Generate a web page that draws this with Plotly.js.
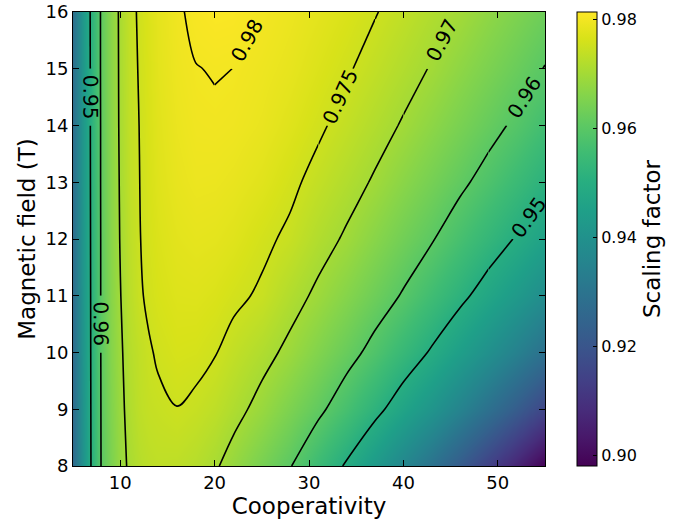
<!DOCTYPE html>
<html>
<head>
<meta charset="utf-8">
<script src="https://cdn.plot.ly/plotly-3.0.1.min.js"></script>
<style>html,body{margin:0;padding:0;background:#fff;}#chart{width:685px;height:524px;}</style>
</head>
<body>
<div id="chart"></div>
<script>
// Cooperativity (x) grid and magnetic field (y) grid
const cooperativity = [5, 6, 7, 8, 9, 10, 11, 12, 13, 14, 16, 18, 20, 22, 25, 28, 31, 34, 37, 40, 43, 46, 49, 52, 55];
const magneticField = [8, 9, 10, 11, 12, 13, 14, 15, 16];

// Scaling factor, one row per magnetic field value
const scaling_B8  = [0.9270, 0.9390, 0.9512, 0.9603, 0.9648, 0.9683, 0.9708, 0.9722, 0.9730, 0.9733, 0.9731, 0.9722, 0.9706, 0.9682, 0.9642, 0.9603, 0.9548, 0.9492, 0.9429, 0.9362, 0.9293, 0.9218, 0.9140, 0.9062, 0.8982];
const scaling_B9  = [0.9272, 0.9395, 0.9513, 0.9604, 0.9655, 0.9687, 0.9716, 0.9732, 0.9740, 0.9743, 0.97493, 0.9743, 0.9732, 0.9715, 0.9685, 0.9649, 0.9612, 0.9567, 0.9518, 0.9465, 0.9411, 0.9351, 0.9289, 0.9222, 0.9153];
const scaling_B10 = [0.9275, 0.9400, 0.9514, 0.9605, 0.9660, 0.9692, 0.9722, 0.9735, 0.9746, 0.9754, 0.9762, 0.9760, 0.9752, 0.9737, 0.9715, 0.9689, 0.9655, 0.9620, 0.9582, 0.9538, 0.9493, 0.9444, 0.9395, 0.9341, 0.9286];
const scaling_B11 = [0.9278, 0.9403, 0.9515, 0.9606, 0.9663, 0.9698, 0.9728, 0.9745, 0.9756, 0.9763, 0.9771, 0.9772, 0.9767, 0.9758, 0.97447, 0.9717, 0.9691, 0.9660, 0.9628, 0.9595, 0.9555, 0.9515, 0.9472, 0.9428, 0.9382];
const scaling_B12 = [0.9280, 0.9405, 0.9516, 0.9606, 0.9665, 0.9702, 0.9732, 0.9748, 0.9760, 0.9768, 0.9778, 0.9782, 0.9780, 0.9774, 0.9758, 0.9743, 0.9717, 0.9694, 0.9664, 0.9634, 0.9604, 0.9568, 0.9532, 0.9495, 0.9455];
const scaling_B13 = [0.9282, 0.9407, 0.9517, 0.9607, 0.9666, 0.9704, 0.9735, 0.9749, 0.9763, 0.9773, 0.9785, 0.9791, 0.9790, 0.9786, 0.9775, 0.9758, 0.9738, 0.9717, 0.9695, 0.9667, 0.9639, 0.9611, 0.9580, 0.9546, 0.9512];
const scaling_B14 = [0.9284, 0.9408, 0.9518, 0.9607, 0.9667, 0.9706, 0.9737, 0.9750, 0.9765, 0.9776, 0.9789, 0.9796, 0.9797, 0.9795, 0.9787, 0.9773, 0.9756, 0.9737, 0.9717, 0.9696, 0.9670, 0.9644, 0.9618, 0.9590, 0.9558];
const scaling_B15 = [0.9285, 0.9409, 0.9519, 0.9608, 0.9667, 0.9707, 0.9738, 0.9752, 0.9767, 0.9779, 0.9793, 0.97993, 0.98012, 0.97999, 0.9793, 0.9784, 0.9769, 0.9754, 0.9736, 0.9717, 0.9697, 0.9672, 0.9648, 0.9623, 0.9598];
const scaling_B16 = [0.9286, 0.9410, 0.9520, 0.9608, 0.9667, 0.9708, 0.9740, 0.9754, 0.9769, 0.9781, 0.9796, 0.9806, 0.9810, 0.9809, 0.98003, 0.9791, 0.9780, 0.9767, 0.9752, 0.9735, 0.9716, 0.9698, 0.9674, 0.9651, 0.9628];

const contourLevels = [0.95, 0.96, 0.97, 0.975, 0.98];
const colorbarTicks = [0.90, 0.92, 0.94, 0.96, 0.98];
const xTickVals = [10, 20, 30, 40, 50];
const yTickVals = [8, 9, 10, 11, 12, 13, 14, 15, 16];

const scaling = [scaling_B8, scaling_B9, scaling_B10, scaling_B11, scaling_B12, scaling_B13, scaling_B14, scaling_B15, scaling_B16];

const FONT = 'DejaVu Sans, Liberation Sans, sans-serif';

// cells (grid index ranges [x0, x1, y0, y1]) where each level's inline label sits (styling only)
const labelCells = {
  0.95:  [[0, 4, 6, 7], [22, 24, 4, 5]],
  0.96:  [[0, 6, 2, 3], [22, 24, 6, 7]],
  0.97:  [[19, 22, 7, 8]],
  0.975: [[16, 18, 6, 7]],
  0.98:  [[12, 15, 7, 8]]
};

const W = 685, H = 524, M = {l: 73, r: 140, t: 12, b: 58};
const xRange = [5, 55], yRange = [8, 16];
const pxPerX = (W - M.l - M.r) / (xRange[1] - xRange[0]);
const pxPerY = (H - M.t - M.b) / (yRange[1] - yRange[0]);

const heat = {
  type: 'heatmap',
  x: cooperativity, y: magneticField, z: scaling,
  colorscale: 'Viridis', zmin: 0.898, zmax: 0.9813, zsmooth: 'best',
  hoverinfo: 'skip',
  colorbar: {
    x: 1.0678, xanchor: 'left', xref: 'paper',
    y: 0.5, yanchor: 'middle', len: 1, lenmode: 'fraction',
    thickness: 20, thicknessmode: 'pixels',
    outlinewidth: 1, outlinecolor: '#000',
    tickvals: colorbarTicks, tickformat: '.2f',
    ticks: 'inside', ticklen: 4, tickcolor: '#000',
    tickfont: {family: FONT, size: 16, color: '#000'},
    title: {text: 'Scaling factor', side: 'right', font: {family: FONT, size: 23, color: '#000'}},
    xpad: 0, ypad: 0
  }
};

function contourPiece(level, a, b, c, d) {
  return {
    type: 'contour',
    x: cooperativity.slice(a, b + 1),
    y: magneticField.slice(c, d + 1),
    z: scaling.slice(c, d + 1).map(r => r.slice(a, b + 1)),
    autocontour: false,
    contours: {start: level, end: level, size: 0.001, coloring: 'none', showlabels: false},
    line: {color: '#000', width: 1.6, smoothing: 1},
    showscale: false, hoverinfo: 'skip'
  };
}

// draw each level everywhere except in its label cells (leaves the inline gap)
function levelTraces(level) {
  const boxes = labelCells[level] || [];
  const nx = cooperativity.length, ny = magneticField.length;
  const xc = new Set([0, nx - 1]);
  boxes.forEach(bx => { xc.add(bx[0]); xc.add(bx[1]); });
  const xs = [...xc].sort((p, q) => p - q);
  const out = [];
  for (let i = 0; i < xs.length - 1; i++) {
    const a = xs[i], b = xs[i + 1];
    const inside = boxes.filter(bx => bx[0] <= a && bx[1] >= b);
    const yc = new Set([0, ny - 1]);
    inside.forEach(bx => { yc.add(bx[2]); yc.add(bx[3]); });
    const ys = [...yc].sort((p, q) => p - q);
    for (let j = 0; j < ys.length - 1; j++) {
      const c = ys[j], d = ys[j + 1];
      const isGap = inside.some(bx => bx[2] <= c && bx[3] >= d);
      if (!isGap) out.push(contourPiece(level, a, b, c, d));
    }
  }
  return out;
}

// where the level crosses the edge of a label cell (from the data, linear along grid lines)
function edgeCrossings(level, bx) {
  const [a, b, c, d] = bx;
  const X = cooperativity, Y = magneticField, Z = scaling, pts = [];
  function edge(x1, y1, z1, x2, y2, z2) {
    if ((z1 - level) * (z2 - level) < 0) {
      const t = (level - z1) / (z2 - z1);
      pts.push([x1 + t * (x2 - x1), y1 + t * (y2 - y1)]);
    }
  }
  for (let i = a; i < b; i++) {
    edge(X[i], Y[c], Z[c][i], X[i + 1], Y[c], Z[c][i + 1]);
    edge(X[i], Y[d], Z[d][i], X[i + 1], Y[d], Z[d][i + 1]);
  }
  for (let j = c; j < d; j++) {
    edge(X[a], Y[j], Z[j][a], X[a], Y[j + 1], Z[j + 1][a]);
    edge(X[b], Y[j], Z[j][b], X[b], Y[j + 1], Z[j + 1][b]);
  }
  return pts;
}

const annotations = [];
contourLevels.forEach(level => {
  (labelCells[level] || []).forEach(bx => {
    const pts = edgeCrossings(level, bx);
    if (pts.length < 2) return;
    const p = pts[0], q = pts[1];
    const dx = (q[0] - p[0]) * pxPerX, dy = -(q[1] - p[1]) * pxPerY;
    let ang = Math.atan2(dy, dx) * 180 / Math.PI;
    while (ang > 100) ang -= 180;
    while (ang <= -80) ang += 180;
    annotations.push({
      x: (p[0] + q[0]) / 2, y: (p[1] + q[1]) / 2, xref: 'x', yref: 'y',
      text: String(level), showarrow: false, textangle: ang,
      xanchor: 'center', yanchor: 'middle',
      font: {family: FONT, size: 20, color: '#000'}
    });
  });
});

const data = [heat];
contourLevels.forEach(lv => { data.push(...levelTraces(lv)); });

const axisCommon = {
  showline: true, linecolor: '#000', linewidth: 1, mirror: 'allticks',
  ticks: 'inside', ticklen: 6, tickcolor: '#000', tickwidth: 1,
  showgrid: false, zeroline: false,
  tickfont: {family: FONT, size: 18, color: '#000'}
};

const layout = {
  width: W, height: H,
  margin: M,
  paper_bgcolor: '#fff', plot_bgcolor: '#fff',
  showlegend: false,
  annotations: annotations,
  xaxis: Object.assign({}, axisCommon, {
    range: xRange, tickvals: xTickVals,
    title: {text: 'Cooperativity', font: {family: FONT, size: 23, color: '#000'}, standoff: 2}
  }),
  yaxis: Object.assign({}, axisCommon, {
    range: yRange, tickvals: yTickVals,
    title: {text: 'Magnetic field (T)', font: {family: FONT, size: 23, color: '#000'}, standoff: 3}
  })
};

Plotly.newPlot('chart', data, layout, {displayModeBar: false, staticPlot: true});
</script>
</body>
</html>
